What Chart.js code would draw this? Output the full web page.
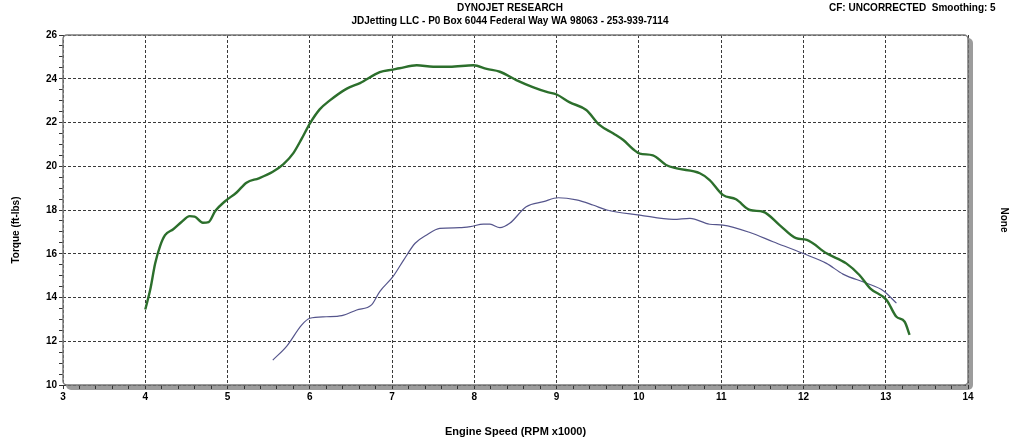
<!DOCTYPE html>
<html><head><meta charset="utf-8">
<script src="https://cdn.jsdelivr.net/npm/chart.js@4/dist/chart.umd.min.js"></script>
<style>html,body{margin:0;padding:0;background:#fff}#wrap{width:1022px;height:444px}</style>
</head><body><div id="wrap"><canvas id="c" width="1022" height="444"></canvas></div>
<script>
const titleLine1 = "DYNOJET RESEARCH";
const titleLine2 = "JDJetting LLC - P0 Box 6044 Federal Way WA 98063 - 253-939-7114";
const cornerNote = "CF: UNCORRECTED  Smoothing: 5";
const xAxisTitle = "Engine Speed (RPM x1000)";
const yAxisTitle = "Torque (ft-lbs)";
const y2AxisTitle = "None";

const rpmGreen = [4.00,4.06,4.12,4.18,4.24,4.34,4.44,4.54,4.60,4.70,4.77,4.85,4.97,5.11,5.23,5.38,5.55,5.68,5.80,5.90,6.00,6.12,6.24,6.45,6.61,6.85,7.01,7.09,7.30,7.50,7.70,7.99,8.15,8.31,8.51,8.71,8.88,9.00,9.16,9.36,9.52,9.69,9.81,9.93,10.01,10.17,10.33,10.46,10.74,10.86,11.02,11.18,11.35,11.51,11.71,11.91,12.04,12.28,12.52,12.68,12.81,13.01,13.13,13.23,13.29];
const torqueGreen = [13.45,14.35,15.55,16.35,16.85,17.12,17.45,17.72,17.70,17.42,17.45,17.95,18.40,18.80,19.25,19.45,19.75,20.10,20.60,21.25,21.95,22.60,23.00,23.55,23.80,24.30,24.42,24.48,24.62,24.55,24.55,24.62,24.45,24.32,23.94,23.62,23.40,23.28,22.92,22.57,21.89,21.50,21.20,20.78,20.58,20.50,20.06,19.90,19.68,19.37,18.69,18.49,18.00,17.92,17.31,16.71,16.63,16.02,15.56,15.03,14.42,13.89,13.12,12.89,12.29];

const rpmBlue = [5.55,5.72,5.90,6.00,6.20,6.39,6.57,6.75,6.85,7.01,7.14,7.28,7.42,7.58,7.82,7.95,8.11,8.19,8.31,8.43,8.63,8.84,9.02,9.24,9.44,9.61,10.01,10.42,10.62,10.86,11.02,11.35,11.63,11.99,12.28,12.48,12.77,12.97,13.13];
const torqueBlue = [11.14,11.78,12.74,13.05,13.12,13.17,13.43,13.66,14.27,14.95,15.71,16.48,16.86,17.16,17.19,17.24,17.35,17.35,17.19,17.39,18.15,18.38,18.56,18.46,18.23,18.00,17.77,17.57,17.62,17.35,17.31,16.97,16.55,16.02,15.56,15.07,14.65,14.31,13.74];

const xMin = 3, xMax = 14, xMajor = 1, xMinor = 0.2;
const yMin = 10, yMax = 26, yMajor = 2, yMinor = 0.5;

const toPts = (xs, ys) => xs.map((x, i) => ({x, y: ys[i]}));
const isMult = (v, m) => Math.abs(v / m - Math.round(v / m)) < 1e-6;

const FONT = "'Liberation Sans', Arial, sans-serif";

const framePlugin = {
  id: 'frame',
  beforeDraw(chart) {
    const {ctx, chartArea: a} = chart;
    ctx.save();
    ctx.fillStyle = '#fff';
    ctx.fillRect(0, 0, chart.width, chart.height);
    ctx.fillStyle = '#9c9c9c';
    ctx.beginPath();
    ctx.roundRect(a.left + 3, a.top + 3, a.right - a.left + 2, a.bottom - a.top + 2, 5);
    ctx.fill();
    ctx.fillStyle = '#fff';
    ctx.beginPath();
    ctx.roundRect(a.left, a.top, a.right - a.left, a.bottom - a.top, 4);
    ctx.fill();
    ctx.restore();
  },
  afterDraw(chart) {
    const {ctx, chartArea: a} = chart;
    ctx.save();
    ctx.strokeStyle = '#7a7a7a';
    ctx.lineWidth = 1.5;
    ctx.beginPath();
    ctx.roundRect(a.left, a.top, a.right - a.left, a.bottom - a.top, 4);
    ctx.stroke();
    ctx.fillStyle = '#000';
    ctx.textBaseline = 'middle';
    ctx.textAlign = 'center';
    ctx.font = "bold 10px " + FONT;
    ctx.fillText(titleLine1, 510, 8);
    ctx.fillText(titleLine2, 510, 21);
    ctx.textAlign = 'left';
    ctx.fillText(cornerNote, 829, 8);
    ctx.textAlign = 'center';
    ctx.save();
    ctx.translate(16, 230);
    ctx.rotate(-Math.PI / 2);
    ctx.fillText(yAxisTitle, 0, 0);
    ctx.restore();
    ctx.save();
    ctx.translate(1004, 220);
    ctx.rotate(Math.PI / 2);
    ctx.fillText(y2AxisTitle, 0, 0);
    ctx.restore();
    ctx.restore();
  }
};

new Chart(document.getElementById('c'), {
  type: 'line',
  data: {
    datasets: [
      {data: toPts(rpmGreen, torqueGreen), borderColor: '#2c6f2c', borderWidth: 2.4, pointRadius: 0, cubicInterpolationMode: 'monotone', fill: false},
      {data: toPts(rpmBlue, torqueBlue), borderColor: '#55558c', borderWidth: 1.2, pointRadius: 0, cubicInterpolationMode: 'monotone', fill: false}
    ]
  },
  options: {
    responsive: false,
    animation: false,
    devicePixelRatio: 1,
    layout: {padding: {top: 35, left: 0, right: 54, bottom: 0}},
    plugins: {legend: {display: false}, title: {display: false}, tooltip: {enabled: false}},
    scales: {
      x: {
        type: 'linear', min: xMin, max: xMax,
        afterFit(s) { s.height = 59; },
        ticks: {stepSize: xMinor, autoSkip: false, maxRotation: 0, padding: 2, color: '#000',
          font: {family: FONT, weight: 'bold', size: 10},
          callback: v => isMult(v, xMajor) ? String(Math.round(v)) : ''},
        grid: {
          color: c => (c.tick && isMult(c.tick.value, xMajor)) ? '#3a3a3a' : 'rgba(0,0,0,0)',
          tickColor: '#333', tickLength: 4, lineWidth: 1, tickWidth: 1
        },
        border: {display: false, dash: [3, 2]},
        title: {display: true, text: xAxisTitle, color: '#000', font: {family: FONT, weight: 'bold', size: 11}, padding: {top: 16, bottom: 5}}
      },
      y: {
        type: 'linear', min: yMin, max: yMax, position: 'left',
        afterFit(s) { s.width = 63; },
        ticks: {stepSize: yMinor, autoSkip: false, padding: 2, color: '#000',
          font: {family: FONT, weight: 'bold', size: 10},
          callback: v => isMult(v, yMajor) ? String(Math.round(v)) : ''},
        grid: {
          color: c => (c.tick && isMult(c.tick.value, yMajor)) ? '#3a3a3a' : 'rgba(0,0,0,0)',
          tickColor: '#333', tickLength: 4, lineWidth: 1, tickWidth: 1
        },
        border: {display: false, dash: [3, 2]}
      }
    }
  },
  plugins: [framePlugin]
});
</script></body></html>
